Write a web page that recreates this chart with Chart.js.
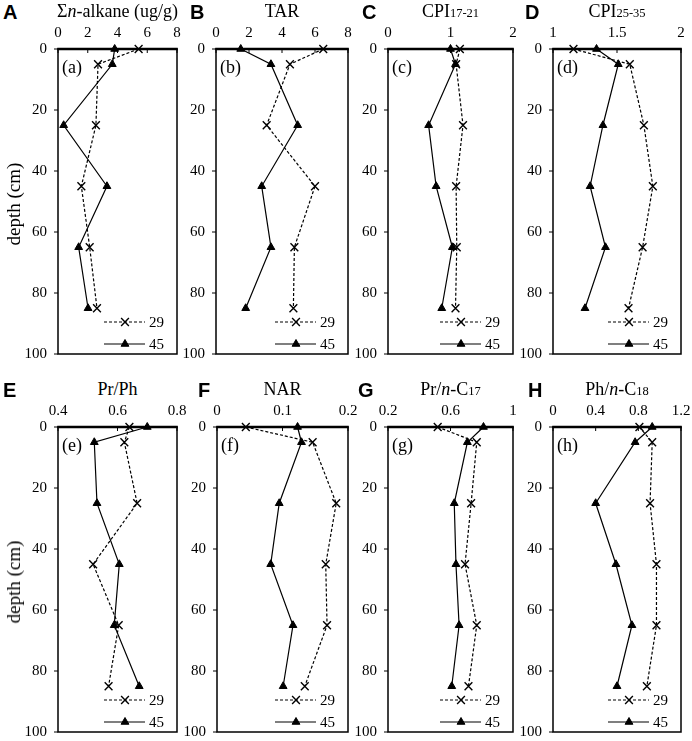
<!DOCTYPE html>
<html>
<head>
<meta charset="utf-8">
<script src="https://cdn.jsdelivr.net/npm/chart.js@4.4.1/dist/chart.umd.min.js"></script>
<style>
  body { margin: 0; background: #fff; }
  #wrap { position: relative; width: 692px; height: 741px; overflow: hidden; color: #000;
          font-family: "Liberation Serif", "Times New Roman", serif; }
  canvas { position: absolute; }
  .letter { position: absolute; font: bold 20px "Liberation Sans", Arial, sans-serif; line-height: 20px; }
  .title { position: absolute; font-size: 18px; line-height: 20px; white-space: nowrap; transform: translateX(-50%); }
  .title small { font-size: 12.5px; }
  .ylab { position: absolute; font-size: 19px; white-space: nowrap; transform: translate(-50%, -50%) rotate(-90deg); }
</style>
</head>
<body>
<div id="wrap"></div>
<script>
// depth of each sample (cm), shared by all panels
const depths = [0, 5, 25, 45, 65, 85];
const depthTicks = [0, 20, 40, 60, 80, 100];
const seriesNames = ["29", "45"];

// values, one pair of arrays per panel
const alkane29 = [5.42, 2.69, 2.55, 1.57, 2.13, 2.62];
const alkane45 = [3.81, 3.65, 0.38, 3.29, 1.39, 2.02];
const alkaneTicks = [0, 2, 4, 6, 8];

const tar29 = [6.5, 4.48, 3.07, 6.0, 4.75, 4.69];
const tar45 = [1.5, 3.33, 4.95, 2.77, 3.33, 1.8];
const tarTicks = [0, 2, 4, 6, 8];

const cpiLow29 = [1.15, 1.09, 1.2, 1.09, 1.1, 1.08];
const cpiLow45 = [1.0, 1.08, 0.65, 0.77, 1.03, 0.86];
const cpiLowTicks = [0, 1, 2];

const cpiHigh29 = [1.16, 1.6, 1.71, 1.78, 1.7, 1.59];
const cpiHigh45 = [1.34, 1.51, 1.39, 1.29, 1.41, 1.25];
const cpiHighTicks = [1, 1.5, 2];

const prPh29 = [0.64, 0.623, 0.666, 0.518, 0.604, 0.57];
const prPh45 = [0.70, 0.522, 0.531, 0.606, 0.589, 0.673];
const prPhTicks = [0.4, 0.6, 0.8];

const nar29 = [0.044, 0.146, 0.182, 0.166, 0.168, 0.134];
const nar45 = [0.123, 0.129, 0.095, 0.082, 0.116, 0.101];
const narTicks = [0, 0.1, 0.2];

const prC17_29 = [0.518, 0.768, 0.732, 0.693, 0.768, 0.715];
const prC17_45 = [0.811, 0.708, 0.624, 0.635, 0.655, 0.608];
const prC17Ticks = [0.2, 0.6, 1];

const phC18_29 = [0.81, 0.93, 0.91, 0.97, 0.97, 0.88];
const phC18_45 = [0.93, 0.77, 0.40, 0.59, 0.74, 0.60];
const phC18Ticks = [0, 0.4, 0.8, 1.2];

// panel placement (plot box in page pixels)
const panels = [
  { letter: "A", letterX: 3,   title: "Σ<i>n</i>-alkane (ug/g)", tag: "(a)", left: 58,  right: 177, top: 49,  a: alkane29, b: alkane45, ticks: alkaneTicks, depthLabel: true },
  { letter: "B", letterX: 190, title: "TAR",                      tag: "(b)", left: 216, right: 348, top: 49,  a: tar29, b: tar45, ticks: tarTicks },
  { letter: "C", letterX: 362, title: "CPI<small>17-21</small>",  tag: "(c)", left: 388, right: 513, top: 49,  a: cpiLow29, b: cpiLow45, ticks: cpiLowTicks },
  { letter: "D", letterX: 525, title: "CPI<small>25-35</small>",  tag: "(d)", left: 553, right: 681, top: 49,  a: cpiHigh29, b: cpiHigh45, ticks: cpiHighTicks },
  { letter: "E", letterX: 3,   title: "Pr/Ph",                    tag: "(e)", left: 58,  right: 177, top: 427, a: prPh29, b: prPh45, ticks: prPhTicks, depthLabel: true },
  { letter: "F", letterX: 198, title: "NAR",                      tag: "(f)", left: 217, right: 348, top: 427, a: nar29, b: nar45, ticks: narTicks },
  { letter: "G", letterX: 358, title: "Pr/<i>n</i>-C<small>17</small>", tag: "(g)", left: 388, right: 513, top: 427, a: prC17_29, b: prC17_45, ticks: prC17Ticks },
  { letter: "H", letterX: 528, title: "Ph/<i>n</i>-C<small>18</small>", tag: "(h)", left: 553, right: 681, top: 427, a: phC18_29, b: phC18_45, ticks: phC18Ticks }
];
const plotH = 305;
const padL = 40, padT = 28, padR = 16, padB = 14;
const serif = "'Liberation Serif', 'Times New Roman', serif";

// box, inner x ticks, outer y ticks, panel tag and the small legend
const frame = {
  id: "frame",
  beforeDatasetsDraw(chart) {
    const { ctx, chartArea: a, scales } = chart;
    ctx.save();
    ctx.strokeStyle = "#000";
    ctx.lineWidth = 1.5;
    ctx.strokeRect(a.left, a.top, a.right - a.left, a.bottom - a.top);
    ctx.lineWidth = 2.5;
    ctx.beginPath();
    ctx.moveTo(a.left - 0.75, a.top);
    ctx.lineTo(a.right + 0.75, a.top);
    ctx.stroke();
    ctx.lineWidth = 1;
    scales.x.ticks.forEach(t => {
      const px = scales.x.getPixelForValue(t.value);
      ctx.beginPath();
      ctx.moveTo(px, a.top);
      ctx.lineTo(px, a.top + 4);
      ctx.stroke();
    });
    scales.y.ticks.forEach(t => {
      const py = scales.y.getPixelForValue(t.value);
      ctx.beginPath();
      ctx.moveTo(a.left - 4, py);
      ctx.lineTo(a.left, py);
      ctx.stroke();
    });
    ctx.restore();
  },
  afterDraw(chart, args, opts) {
    const { ctx, chartArea: a } = chart;
    ctx.save();
    ctx.fillStyle = "#000";
    ctx.font = "18px " + serif;
    ctx.textBaseline = "middle";
    ctx.fillText(opts.tag, a.left + 4, a.top + 19);

    const rows = [a.top + 273, a.top + 295];
    chart.data.datasets.forEach((ds, i) => {
      const y = rows[i];
      ctx.strokeStyle = "#000";
      ctx.lineWidth = ds.borderWidth;
      ctx.setLineDash(ds.borderDash || []);
      ctx.beginPath();
      ctx.moveTo(a.right - 73, y);
      ctx.lineTo(a.right - 32, y);
      ctx.stroke();
      ctx.setLineDash([]);
      ctx.fillStyle = "#000";
      ctx.lineWidth = ds.pointBorderWidth;
      Chart.helpers.drawPoint(ctx, {
        pointStyle: ds.pointStyle, radius: ds.pointRadius,
        borderWidth: ds.pointBorderWidth, rotation: 0
      }, a.right - 52, y);
      ctx.font = "15px " + serif;
      ctx.fillText(ds.label, a.right - 28, y + 1);
    });
    ctx.restore();
  }
};

const wrap = document.getElementById("wrap");

function addDiv(cls, html, x, y) {
  const d = document.createElement("div");
  d.className = cls;
  d.innerHTML = html;
  d.style.left = x + "px";
  d.style.top = y + "px";
  wrap.appendChild(d);
}

function build() {
  panels.forEach(p => {
    const w = p.right - p.left;
    const cv = document.createElement("canvas");
    cv.width = w + padL + padR;
    cv.height = plotH + padT + padB;
    cv.style.left = (p.left - padL) + "px";
    cv.style.top = (p.top - padT) + "px";
    wrap.appendChild(cv);

    addDiv("letter", p.letter, p.letterX, p.top - 47);
    addDiv("title", p.title, (p.left + p.right) / 2, p.top - 48);
    if (p.depthLabel) addDiv("ylab", "depth (cm)", 14, p.top + plotH / 2 + 2);

    new Chart(cv, {
      type: "scatter",
      data: {
        datasets: [
          {
            label: seriesNames[0],
            data: depths.map((d, i) => ({ x: p.a[i], y: d })),
            showLine: true,
            borderColor: "#000",
            backgroundColor: "#000",
            borderWidth: 1.2,
            borderDash: [3, 2],
            pointStyle: "crossRot",
            pointRadius: 5.5,
            pointBorderWidth: 1.4,
            clip: false
          },
          {
            label: seriesNames[1],
            data: depths.map((d, i) => ({ x: p.b[i], y: d })),
            showLine: true,
            borderColor: "#000",
            backgroundColor: "#000",
            borderWidth: 1.2,
            pointStyle: "triangle",
            pointRadius: 4.5,
            pointBorderWidth: 1,
            clip: false
          }
        ]
      },
      options: {
        responsive: false,
        animation: false,
        layout: { padding: { left: 0, top: 0, right: padR, bottom: padB } },
        plugins: {
          legend: { display: false },
          tooltip: { enabled: false },
          frame: { tag: p.tag }
        },
        scales: {
          x: {
            type: "linear",
            position: "top",
            min: p.ticks[0],
            max: p.ticks[p.ticks.length - 1],
            afterBuildTicks: s => { s.ticks = p.ticks.map(v => ({ value: v })); },
            afterFit: s => { s.height = padT; s.paddingLeft = 0; s.paddingRight = 0; },
            grid: { display: false, drawTicks: false },
            border: { display: false },
            ticks: { padding: 7, color: "#000", font: { family: serif, size: 15 }, maxRotation: 0,
                     callback: v => String(v) }
          },
          y: {
            type: "linear",
            reverse: true,
            min: 0,
            max: 100,
            afterBuildTicks: s => { s.ticks = depthTicks.map(v => ({ value: v })); },
            afterFit: s => { s.width = padL; s.paddingTop = 0; s.paddingBottom = 0; },
            grid: { display: false, drawTicks: false },
            border: { display: false },
            ticks: { padding: 11, color: "#000", font: { family: serif, size: 15 },
                     callback: v => String(v) }
          }
        }
      },
      plugins: [frame]
    });
  });
}

// make sure the serif face is ready before the canvases draw text
if (document.fonts && document.fonts.load) {
  Promise.all([
    document.fonts.load("15px 'Liberation Serif'"),
    document.fonts.load("italic 18px 'Liberation Serif'"),
    document.fonts.load("bold 20px 'Liberation Sans'")
  ]).then(build, build);
} else {
  build();
}
</script>
</body>
</html>
